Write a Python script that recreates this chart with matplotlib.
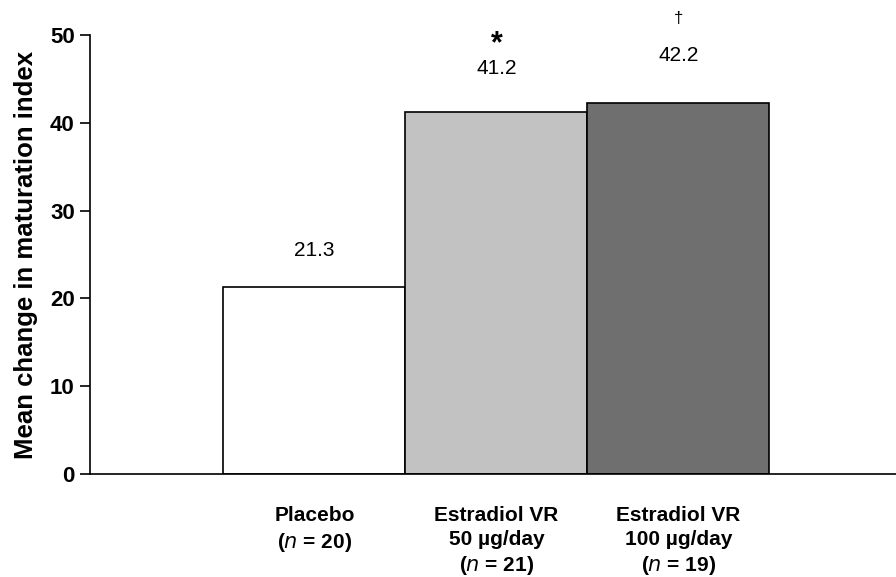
import matplotlib
matplotlib.use('Agg')
import matplotlib.pyplot as plt

group_names = ['Placebo', 'Estradiol VR\n50 µg/day', 'Estradiol VR\n100 µg/day']
n_sizes = [20, 21, 19]
means = [21.3, 41.2, 42.2]
marks = ['', '*', '†']
colors = ['white', '#c2c2c2', '#6f6f6f']

plt.rcParams['font.family'] = ['Liberation Sans', 'DejaVu Sans']

fig = plt.figure(figsize=(8.96, 5.77), dpi=100)
ax = fig.add_axes([90/896, 103/577, 806/896, 439/577])

x = range(len(means))
ax.bar(x, means, width=1.0, color=colors, edgecolor='black', linewidth=1.2)

ax.set_xlim(-1.233, 3.195)
ax.set_ylim(0, 50)
ax.set_yticks([0, 10, 20, 30, 40, 50])
ax.tick_params(axis='y', direction='out', length=7, width=1.2, labelsize=16, pad=4)
for lab in ax.get_yticklabels():
    lab.set_fontweight('bold')
ax.set_xticks([])
ax.spines['top'].set_visible(False)
ax.spines['right'].set_visible(False)
ax.spines['left'].set_linewidth(1.2)
ax.spines['bottom'].set_linewidth(1.2)
ax.set_ylabel('Mean change in maturation index', fontsize=18.5, fontweight='bold')
ax.yaxis.set_label_coords(-0.064, 0.5)

# value labels and significance marks
offsets = [4.2, 5.0, 5.5]
for i, m in enumerate(means):
    ax.text(i, m + offsets[i], f'{m:.1f}', ha='center', va='center', fontsize=15)
ax.text(1, 49.0, marks[1], ha='center', va='center', fontsize=22, fontweight='bold')
ax.text(2, 51.9, marks[2], ha='center', va='center', fontsize=12, clip_on=False)

# category labels under the axis
for i, (name, n) in enumerate(zip(group_names, n_sizes)):
    label = name + '\n(' + r'$\mathbf{\it{n}}$' + f' = {n})'
    ax.text(i, -3.7, label, ha='center', va='top', fontsize=15, fontweight='bold',
            linespacing=1.3, clip_on=False)

fig.savefig('out.png', dpi=100)
